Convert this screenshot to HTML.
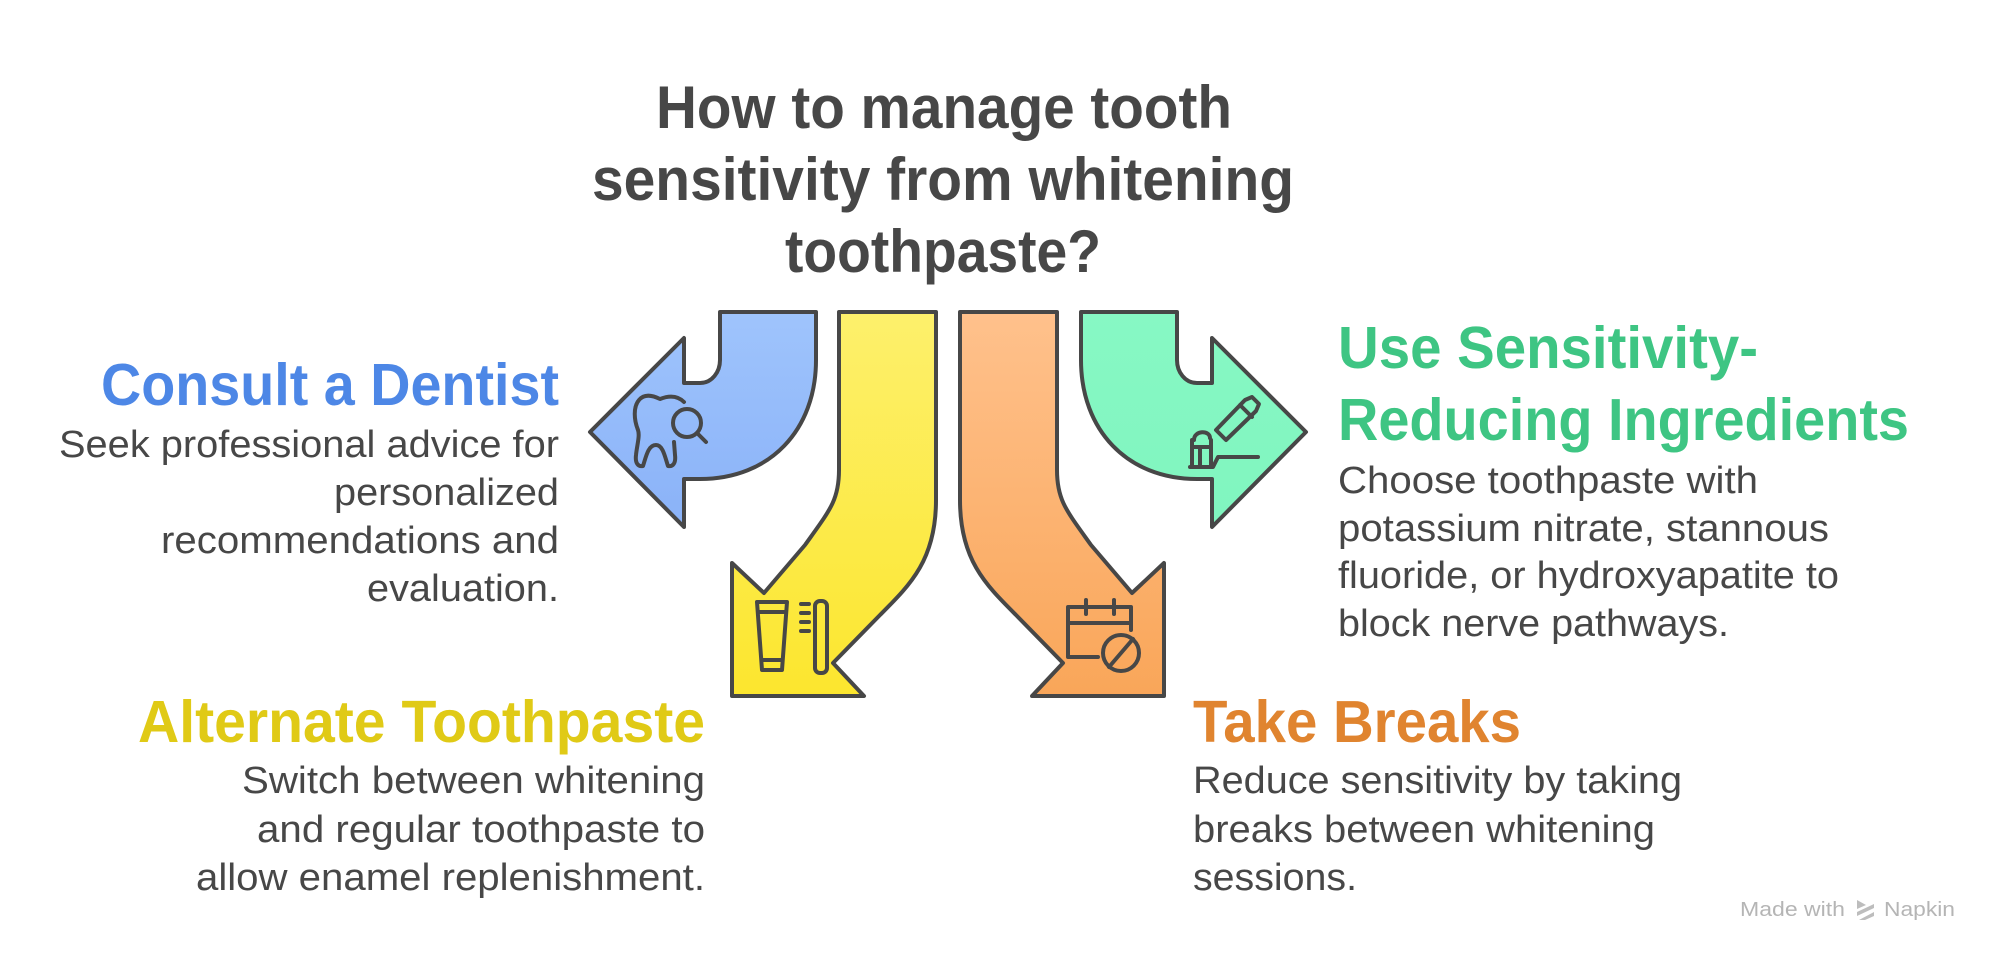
<!DOCTYPE html>
<html><head><meta charset="utf-8"><style>
html,body{margin:0;padding:0;background:#fff}
svg{display:block}
text{font-family:"Liberation Sans",Arial,sans-serif}
.t{font-weight:bold;fill:#474747;font-size:60px}
.h{font-weight:bold;font-size:59px}
.b{fill:#474747;font-size:38px}
.ic{fill:none;stroke:#474747;stroke-width:4;stroke-linecap:round;stroke-linejoin:round}
.sh{stroke:#474747;stroke-width:4;stroke-linejoin:round}
</style></head><body>
<svg width="2004" height="964" viewBox="0 0 2004 964" xmlns="http://www.w3.org/2000/svg">
<defs>
<linearGradient id="gb" x1="0" y1="0" x2="0" y2="1"><stop offset="0" stop-color="#9fc4fc"/><stop offset="1" stop-color="#8ab2f8"/></linearGradient>
<linearGradient id="gy" x1="0" y1="0" x2="0" y2="1"><stop offset="0" stop-color="#fdf06c"/><stop offset="1" stop-color="#fce62e"/></linearGradient>
<linearGradient id="go" x1="0" y1="0" x2="0" y2="1"><stop offset="0" stop-color="#ffc18c"/><stop offset="1" stop-color="#f9a659"/></linearGradient>
<linearGradient id="gg" x1="0" y1="0" x2="0" y2="1"><stop offset="0" stop-color="#87f8c4"/><stop offset="1" stop-color="#80f5bf"/></linearGradient>
</defs>

<text class="t" x="944" y="128" text-anchor="middle" textLength="576" lengthAdjust="spacingAndGlyphs">How to manage tooth</text>
<text class="t" x="943" y="200" text-anchor="middle" textLength="702" lengthAdjust="spacingAndGlyphs">sensitivity from whitening</text>
<text class="t" x="943" y="272" text-anchor="middle" textLength="316" lengthAdjust="spacingAndGlyphs">toothpaste?</text>

<path class="sh" fill="url(#gb)" d="M720,312 L816,312 L816,360 C816,430 770,479 700,479 L684,479 L684,527 L590,432 L684,338 L684,383 L700,383 C712,383 720,372 720,360 Z"/>
<path class="sh" fill="url(#gy)" d="M839,312 L936,312 L936,500 C936,560 910,585 880,615 L833,663 L864,696 L732,696 L732,563 L764,593 L805,545 C830,510 839,500 839,470 Z"/>
<path class="sh" fill="url(#go)" d="M960,312 L1057,312 L1057,470 C1057,500 1066,510 1091,545 L1132,593 L1164,563 L1164,696 L1032,696 L1063,663 L1016,615 C986,585 960,560 960,500 Z"/>
<path class="sh" fill="url(#gg)" d="M1081,312 L1177,312 L1177,360 C1177,372 1185,383 1197,383 L1212,383 L1212,338 L1306,432 L1212,527 L1212,479 L1197,479 C1127,479 1081,430 1081,360 Z"/>

<path class="ic" d="M684,402 C678,396 670,395 660,399 C652,395 644,394 639,400 C633,407 634,420 638,430 C640,436 637,445 636,455 C635,463 638,467 643,466 C646,457 648,445 656,445 C663,445 665,457 668,466 C673,467 676,463 675,455 L674,442"/>
<circle class="ic" cx="687" cy="423" r="14"/>
<path class="ic" d="M697,433 L706,442"/>

<path class="ic" d="M757,602 L787,602 L782,670 L762,670 Z M758,612 L786,612 M762,660 L782,660"/>
<rect class="ic" x="815" y="601" width="12" height="72" rx="5"/>
<path class="ic" d="M801,604 L809,604 M801,613 L809,613 M801,622 L809,622 M801,631 L809,631"/>

<path class="ic" d="M1098,657 L1068,657 L1068,607 L1131,607 L1131,630 M1068,623 L1131,623 M1086,600 L1086,614 M1114,600 L1114,614"/>
<circle class="ic" cx="1121" cy="653" r="18"/>
<path class="ic" d="M1109,667 L1133,639"/>

<path class="ic" d="M1226,440 L1216,430 L1245,400 L1252,397 L1259,404 L1256,411 Z M1240,405 L1252,417"/>
<path class="ic" d="M1190,467 L1213,467 L1218,457 L1258,457 M1192,467 L1192,440 M1192,447 L1211,447 M1211,440 L1211,467 M1200,447 L1200,466 M1194,440 C1194,430 1210,430 1210,438"/>

<text class="h" x="559" y="405" text-anchor="end" fill="#4d87e6" textLength="458" lengthAdjust="spacingAndGlyphs">Consult a Dentist</text>
<text class="b" x="559" y="457" text-anchor="end" textLength="500" lengthAdjust="spacingAndGlyphs">Seek professional advice for</text>
<text class="b" x="559" y="505" text-anchor="end" textLength="225" lengthAdjust="spacingAndGlyphs">personalized</text>
<text class="b" x="559" y="553" text-anchor="end" textLength="398" lengthAdjust="spacingAndGlyphs">recommendations and</text>
<text class="b" x="559" y="601" text-anchor="end" textLength="192" lengthAdjust="spacingAndGlyphs">evaluation.</text>

<text class="h" x="1338" y="368" fill="#3ec583" textLength="420" lengthAdjust="spacingAndGlyphs">Use Sensitivity-</text>
<text class="h" x="1338" y="440" fill="#3ec583" textLength="571" lengthAdjust="spacingAndGlyphs">Reducing Ingredients</text>
<text class="b" x="1338" y="493" textLength="420" lengthAdjust="spacingAndGlyphs">Choose toothpaste with</text>
<text class="b" x="1338" y="541" textLength="491" lengthAdjust="spacingAndGlyphs">potassium nitrate, stannous</text>
<text class="b" x="1338" y="588" textLength="501" lengthAdjust="spacingAndGlyphs">fluoride, or hydroxyapatite to</text>
<text class="b" x="1338" y="636" textLength="391" lengthAdjust="spacingAndGlyphs">block nerve pathways.</text>

<text class="h" x="705" y="742" text-anchor="end" fill="#e0ca16" textLength="567" lengthAdjust="spacingAndGlyphs">Alternate Toothpaste</text>
<text class="b" x="705" y="793" text-anchor="end" textLength="463" lengthAdjust="spacingAndGlyphs">Switch between whitening</text>
<text class="b" x="705" y="842" text-anchor="end" textLength="448" lengthAdjust="spacingAndGlyphs">and regular toothpaste to</text>
<text class="b" x="705" y="890" text-anchor="end" textLength="509" lengthAdjust="spacingAndGlyphs">allow enamel replenishment.</text>

<text class="h" x="1193" y="742" fill="#e0842f" textLength="328" lengthAdjust="spacingAndGlyphs">Take Breaks</text>
<text class="b" x="1193" y="793" textLength="489" lengthAdjust="spacingAndGlyphs">Reduce sensitivity by taking</text>
<text class="b" x="1193" y="842" textLength="462" lengthAdjust="spacingAndGlyphs">breaks between whitening</text>
<text class="b" x="1193" y="890" textLength="164" lengthAdjust="spacingAndGlyphs">sessions.</text>

<text x="1740" y="916" font-size="20" fill="#b5b5b5" textLength="105" lengthAdjust="spacingAndGlyphs">Made with</text>
<path d="M1857,900 L1866,905 L1857,909 Z M1857,912 L1874,904 L1874,908 L1857,916 Z M1859,920 L1874,912 L1874,916 L1865,920 Z" fill="#bdbdbd"/>
<text x="1884" y="916" font-size="20" fill="#b5b5b5" textLength="71" lengthAdjust="spacingAndGlyphs">Napkin</text>
</svg>
</body></html>
